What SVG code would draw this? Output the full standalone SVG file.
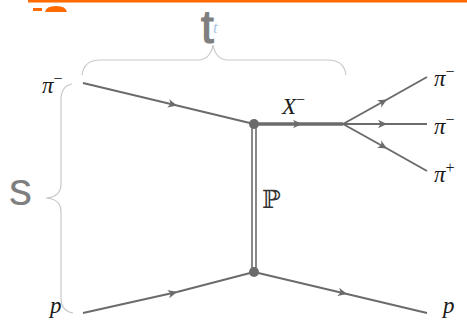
<svg xmlns="http://www.w3.org/2000/svg" width="467" height="323" viewBox="0 0 467 323">
<style>
.ln{stroke:#6b6b6b;stroke-width:2;fill:none}
.br{stroke:#c8c8c8;stroke-width:1.2;fill:none}
.lab{font-family:"Liberation Serif",serif;font-style:italic;font-size:23px;fill:#1a1a1a}
.sup{font-style:normal;font-size:16px}
.big{font-family:"Liberation Sans",sans-serif;font-size:46px;fill:#7f7f7f}
</style>
<defs>
<marker id="ar" viewBox="-9 -5 10 10" refX="0" refY="0" markerWidth="10" markerHeight="10" markerUnits="userSpaceOnUse" orient="auto">
<path d="M0,0 L-9,-4.2 L-6.5,0 L-9,4.2 Z" fill="#6b6b6b"/>
</marker>
</defs>
<rect x="28" y="0" width="439" height="2.5" fill="#ff6a00"/>
<path d="M33,8 H42 V11 H33 Z M45,12 Q46,6 56,6 Q66,6 67,12 Z" fill="#ff6a00"/>
<g id="braces">
<path class="br" d="M82,75 Q84,60 100,60 H198 Q210,60 213,45 Q216,60 228,60 H328 Q344,60 346,75"/>
<path class="br" d="M72,84 Q61,86 61,100 V184 Q61,197 46,198 Q61,199 61,212 V298 Q61,311 73,313"/>
</g>
<text class="big" x="201" y="43" stroke="#7f7f7f" stroke-width="1.2">t</text>
<text x="213" y="33" font-family="Liberation Serif,serif" font-style="italic" font-size="17" fill="#a9c6e6">t</text>
<text class="big" x="9" y="205">s</text>
<g id="connectors">
<path class="ln" d="M83,83 L177,105.5 L254,124" marker-mid="url(#ar)"/>
<path class="ln" d="M83,313 L177,292 L254,272" marker-mid="url(#ar)"/>
<path class="ln" style="stroke-width:3.5" d="M254,124 L302,124 L343,124" marker-mid="url(#ar)"/>
<path class="ln" d="M343,124 L387,99.5 L427,77" marker-mid="url(#ar)"/>
<path class="ln" d="M343,124 L387,124 L427,124" marker-mid="url(#ar)"/>
<path class="ln" d="M343,124 L387,148.5 L427,171" marker-mid="url(#ar)"/>
<path class="ln" d="M254,272 L347,294 L427,313" marker-mid="url(#ar)"/>
<line class="ln" style="stroke-width:1.6" x1="252" y1="124" x2="252" y2="272"/>
<line class="ln" style="stroke-width:1.6" x1="256" y1="124" x2="256" y2="272"/>
</g>
<g id="v1"><circle cx="254" cy="124" r="5" fill="#6b6b6b"/></g>
<g id="v2"><circle cx="254" cy="272" r="5" fill="#6b6b6b"/></g>
<g id="pim-in"><text class="lab" x="42" y="93">π<tspan class="sup" dy="-9">−</tspan></text></g>
<g id="p-in"><text class="lab" x="50" y="313">p</text></g>
<g id="X"><text class="lab" x="282" y="114">X<tspan class="sup" dy="-9">−</tspan></text></g>
<g id="P"><text x="262" y="208" font-family="DejaVu Serif,serif" font-size="25" fill="#333">ℙ</text></g>
<g id="pim-out1"><text class="lab" x="434" y="86">π<tspan class="sup" dy="-9">−</tspan></text></g>
<g id="pim-out2"><text class="lab" x="434" y="134">π<tspan class="sup" dy="-9">−</tspan></text></g>
<g id="pip-out"><text class="lab" x="434" y="182">π<tspan class="sup" dy="-9">+</tspan></text></g>
<g id="p-out"><text class="lab" x="443" y="313">p</text></g>
</svg>
